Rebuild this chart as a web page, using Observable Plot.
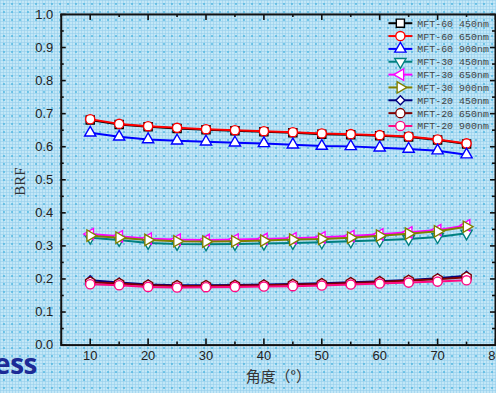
<!DOCTYPE html>
<html>
<head>
<meta charset="utf-8">
<script src="https://cdn.jsdelivr.net/npm/d3@7"></script>
<script src="https://cdn.jsdelivr.net/npm/@observablehq/plot@0.6"></script>
<style>
html, body { margin: 0; padding: 0; overflow: hidden; }
body {
  width: 496px; height: 393px; position: relative;
  background-color: #c2e7f7;
  background-image:
    radial-gradient(circle, rgba(60,175,220,0.75) 0.6px, transparent 1.1px),
    linear-gradient(to right, rgba(150,208,236,0.6) 1px, transparent 1px),
    linear-gradient(to bottom, rgba(150,208,236,0.6) 1px, transparent 1px);
  background-size: 8px 8px, 3px 3px, 3px 3px;
}
#chart { position: absolute; left: 0; top: 0; }
#ess {
  position: absolute; right: calc(100% - 37px); top: 344px;
  font-family: "Open Sans", sans-serif; font-weight: 700; font-size: 28px;
  color: #1c2a96; white-space: nowrap; letter-spacing: -0.5px;
}
</style>
</head>
<body>
<div id="ess">ess</div>
<div id="chart"></div>
<script>
// ---- data ----
const angles = [10, 15, 20, 25, 30, 35, 40, 45, 50, 55, 60, 65, 70, 75];
const mft60_450 = [0.681, 0.667, 0.660, 0.655, 0.651, 0.648, 0.645, 0.642, 0.638, 0.636, 0.633, 0.629, 0.620, 0.608];
const mft60_650 = [0.683, 0.669, 0.662, 0.657, 0.653, 0.650, 0.647, 0.644, 0.640, 0.638, 0.635, 0.631, 0.622, 0.610];
const mft60_900 = [0.642, 0.630, 0.622, 0.618, 0.615, 0.612, 0.610, 0.606, 0.602, 0.601, 0.597, 0.593, 0.588, 0.576];
const mft30_450 = [0.325, 0.318, 0.309, 0.306, 0.305, 0.306, 0.307, 0.309, 0.311, 0.314, 0.317, 0.321, 0.327, 0.338];
const mft30_650 = [0.336, 0.329, 0.322, 0.319, 0.318, 0.319, 0.321, 0.323, 0.326, 0.330, 0.335, 0.341, 0.348, 0.362];
const mft30_900 = [0.331, 0.325, 0.318, 0.314, 0.313, 0.314, 0.316, 0.319, 0.321, 0.325, 0.331, 0.337, 0.344, 0.358];
const mft20_450 = [0.196, 0.189, 0.183, 0.181, 0.181, 0.182, 0.183, 0.185, 0.187, 0.190, 0.193, 0.197, 0.202, 0.210];
const mft20_650 = [0.190, 0.186, 0.181, 0.179, 0.179, 0.180, 0.181, 0.183, 0.185, 0.188, 0.191, 0.195, 0.199, 0.205];
const mft20_900 = [0.184, 0.181, 0.176, 0.174, 0.175, 0.176, 0.177, 0.178, 0.180, 0.183, 0.186, 0.189, 0.192, 0.196];

const seriesNames = ["MFT-60 450nm", "MFT-60 650nm", "MFT-60 900nm",
                     "MFT-30 450nm", "MFT-30 650nm", "MFT-30 900nm",
                     "MFT-20 450nm", "MFT-20 650nm", "MFT-20 900nm"];
const seriesValues = [mft60_450, mft60_650, mft60_900, mft30_450, mft30_650, mft30_900, mft20_450, mft20_650, mft20_900];
const seriesColors = ["#000000", "#ff0000", "#0000ff", "#008080", "#ff00ff", "#808000", "#000080", "#800000", "#ff0a84"];
const seriesSymbols = ["square", "circle", "triangle", "triangle", "triangle", "triangle", "square", "hexagon", "circle"];
const seriesRotate = [0, 0, 0, 180, -90, 90, 45, 0, 0];

const yMajor = [0, 0.1, 0.2, 0.3, 0.4, 0.5, 0.6, 0.7, 0.8, 0.9, 1.0];
const yMinor = [0.05, 0.15, 0.25, 0.35, 0.45, 0.55, 0.65, 0.75, 0.85, 0.95];
const xMajor = [10, 20, 30, 40, 50, 60, 70, 80];
const xMinor = [5, 15, 25, 35, 45, 55, 65, 75];
const xTitle = "角度（°）";
const yTitle = "BRF";

// ---- layout ----
const W = 498, H = 393;
const mL = 61, mR = 1, mT = 14, mB = 47;
const pw = W - mL - mR, ph = H - mT - mB;

const rows = [];
seriesValues.forEach((vals, i) => {
  angles.forEach((a, j) => rows.push({series: seriesNames[i], idx: i, angle: a, brf: vals[j]}));
});

const markR = i => i === 6 ? 3.6 : (seriesSymbols[i] === "triangle" ? 4.2 : 4.6);

const seriesMarks = [];
seriesNames.forEach((name, i) => {
  const d = rows.filter(r => r.idx === i);
  seriesMarks.push(Plot.line(d, {x: "angle", y: "brf", stroke: seriesColors[i], strokeWidth: 2}));
  seriesMarks.push(Plot.dot(d, {x: "angle", y: "brf", stroke: seriesColors[i], fill: "#ffffff",
    strokeWidth: 1.4, r: markR(i), symbol: seriesSymbols[i], rotate: seriesRotate[i]}));
});

const tickStyle = {stroke: "#111", strokeWidth: 1.6};
const chart = Plot.plot({
  width: W, height: H,
  marginLeft: mL, marginRight: mR, marginTop: mT, marginBottom: mB,
  style: {background: "transparent", fontFamily: "'Liberation Sans', Arial, sans-serif", fontSize: "13px", color: "#222", overflow: "visible"},
  x: {domain: [5, 80]},
  y: {domain: [0, 1]},
  marks: [
    ...seriesMarks,
    // inward ticks on all four sides
    Plot.tickY(yMajor, {y: d => d, insetRight: pw - 5, ...tickStyle}),
    Plot.tickY(yMinor, {y: d => d, insetRight: pw - 3, ...tickStyle}),
    Plot.tickY(yMajor, {y: d => d, insetLeft: pw - 5, ...tickStyle}),
    Plot.tickY(yMinor, {y: d => d, insetLeft: pw - 3, ...tickStyle}),
    Plot.tickX(xMajor, {x: d => d, insetTop: ph - 6, ...tickStyle}),
    Plot.tickX(xMinor, {x: d => d, insetTop: ph - 3, ...tickStyle}),
    Plot.tickX(xMajor, {x: d => d, insetBottom: ph - 6, ...tickStyle}),
    Plot.tickX(xMinor, {x: d => d, insetBottom: ph - 3, ...tickStyle}),
    Plot.frame({stroke: "#111", strokeWidth: 2}),
    Plot.axisY(yMajor, {tickSize: 0, tickPadding: 8, tickFormat: d3.format(".1f"), label: null, fill: "#222"}),
    Plot.axisX(xMajor, {tickSize: 0, tickPadding: 6, label: null, fill: "#222"}),
    Plot.text([yTitle], {frameAnchor: "left", dx: -41, dy: 16, rotate: -90,
      fontFamily: "'Liberation Serif', 'DejaVu Serif', serif", fontSize: 15, fill: "#333"}),
    Plot.text([xTitle], {frameAnchor: "bottom", dy: 37,
      fontFamily: "'Noto Sans CJK SC', sans-serif", fontSize: 15, fill: "#333"})
  ]
});
document.getElementById("chart").appendChild(chart);

// ---- legend (inside the plot, upper right) ----
const svg = d3.select(chart);
const symMap = {square: d3.symbolSquare, circle: d3.symbolCircle, triangle: d3.symbolTriangle, hexagon: d3.symbolCircle};
const leg = svg.append("g").attr("class", "legend");
seriesNames.forEach((name, i) => {
  const cy = 23.3 + i * 12.9;
  const g = leg.append("g").attr("transform", `translate(0,${cy})`);
  g.append("line").attr("x1", 390).attr("x2", 414).attr("y1", 0).attr("y2", 0)
    .attr("stroke", seriesColors[i]).attr("stroke-width", 2);
  const r = markR(i);
  g.append("path")
    .attr("d", d3.symbol(symMap[seriesSymbols[i]], Math.PI * r * r)())
    .attr("transform", `translate(402,0) rotate(${seriesRotate[i]})`)
    .attr("fill", "#fff").attr("stroke", seriesColors[i]).attr("stroke-width", 1.4);
  g.append("text").attr("x", 419).attr("y", 0).attr("dy", "0.35em")
    .attr("text-anchor", "start")
    .attr("font-family", "'Liberation Mono', 'DejaVu Sans Mono', monospace")
    .attr("font-size", 10).attr("fill", "#444").text(name);
});
</script>
</body>
</html>
